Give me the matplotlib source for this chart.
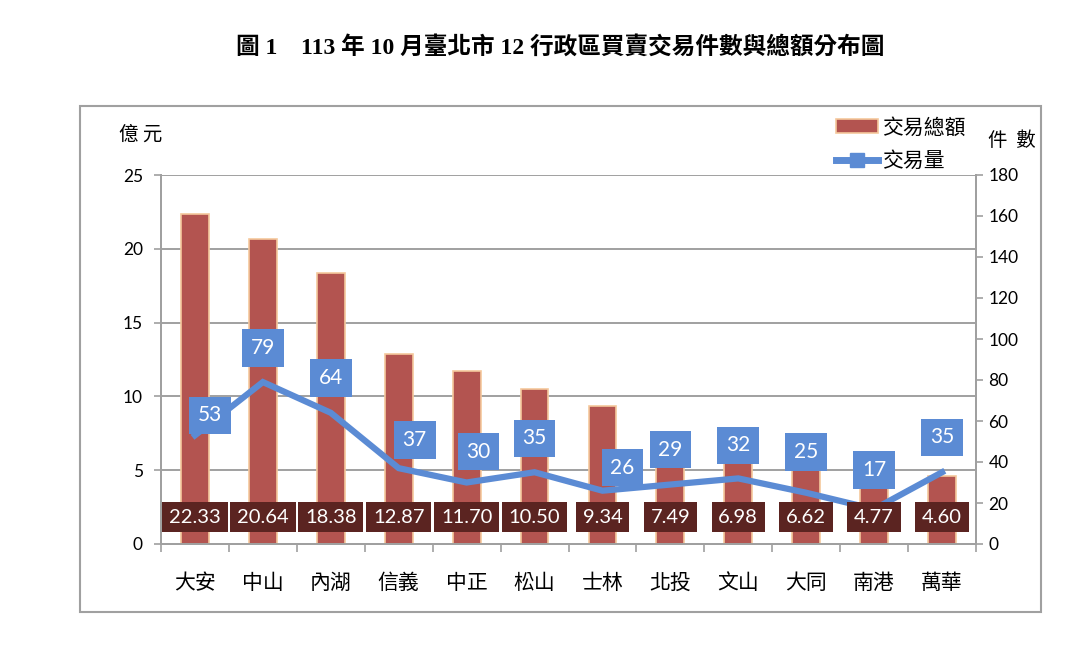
import matplotlib
matplotlib.use("Agg")
import matplotlib.pyplot as plt
from matplotlib.patches import Patch, Rectangle
from matplotlib.lines import Line2D
import numpy as np

plt.rcParams['font.family'] = ['Noto Sans CJK TC', 'DejaVu Sans']

# data
districts = ['大安', '中山', '內湖', '信義', '中正', '松山', '士林', '北投', '文山', '大同', '南港', '萬華']
amount = [22.33, 20.64, 18.38, 12.87, 11.70, 10.50, 9.34, 7.49, 6.98, 6.62, 4.77, 4.60]   # 億元
count = [53, 79, 64, 37, 30, 35, 26, 29, 32, 25, 17, 35]                                   # 件數

# label offsets for the count boxes (pixels: right, up)
lab_dx = [15, 0, 0, 16, 12, 0, 20, 0, 0, 0, 0, 0]
lab_dy = [20, 34, 35, 28, 31, 34, 23, 35, 33, 41, 39, 35]

bar_col = '#b35450'
bar_edge = '#f5c89c'
line_col = '#5b8bd4'
box_dark = '#5b2421'
grey = '#a0a0a0'
numfont = ['Lato', 'DejaVu Sans']

fig = plt.figure(figsize=(10.8, 6.58), dpi=100)
ax = fig.add_axes([161/1080, 1 - 544/658, (976-161)/1080, (544-175)/658])
ax2 = ax.twinx()

x = np.arange(len(districts))
ax.bar(x, amount, width=0.41, color=bar_col, edgecolor=bar_edge, linewidth=1.2, zorder=2)
ax.set_xlim(-0.5, len(districts) - 0.5)
ax.set_ylim(0, 25)
ax.set_yticks(np.arange(0, 26, 5))
ax.yaxis.grid(True, color=grey, linewidth=1.4)
ax.set_axisbelow(True)

ax2.plot(x, count, color=line_col, linewidth=4.5, solid_joinstyle='miter', zorder=2)
ax2.set_ylim(0, 180)
ax2.set_yticks(np.arange(0, 181, 20))

# bar value boxes (sit above the line)
for i, v in enumerate(amount):
    ax2.text(i, 0.073, f'{v:.2f}', transform=ax2.get_xaxis_transform(),
             ha='center', va='center', color='white', fontsize=14.5, family=numfont,
             bbox=dict(boxstyle='square,pad=0.34', facecolor=box_dark, edgecolor='none'),
             zorder=3)

# count label boxes
for i, c in enumerate(count):
    ax2.annotate(str(c), xy=(i, c), xytext=(lab_dx[i] * 0.72, lab_dy[i] * 0.72),
                 textcoords='offset points', ha='center', va='center',
                 color='white', fontsize=15, family=numfont,
                 bbox=dict(boxstyle='square,pad=0.42', facecolor=line_col, edgecolor='none'),
                 zorder=4)

for a in (ax, ax2):
    a.spines['top'].set_visible(False)
    for s in ('left', 'right', 'bottom'):
        a.spines[s].set_color(grey)
        a.spines[s].set_linewidth(1.4)

ax.tick_params(axis='y', direction='out', length=5, width=1.2, color=grey,
               labelsize=12.5, pad=8)
ax2.tick_params(axis='y', direction='out', length=5, width=1.2, color=grey,
                labelsize=12.5, pad=4)
for lab in ax.get_yticklabels() + ax2.get_yticklabels():
    lab.set_family(numfont)

ax.set_xticks(x)
ax.set_xticklabels(districts, fontsize=15)
ax.set_xticks(np.arange(-0.5, len(districts), 1), minor=True)
ax.tick_params(axis='x', which='major', length=0, pad=20)
ax.tick_params(axis='x', which='minor', direction='out', length=6, width=1.2, color=grey)

# axis unit labels
fig.text(119/1080, 1 - 134/658, '億 元', fontsize=14, ha='left', va='center')
fig.text(1036/1080, 1 - 141/658, '件  數', fontsize=14, ha='right', va='center')

# legend
handles = [Patch(facecolor=bar_col, edgecolor=bar_edge, linewidth=1.2),
           Line2D([0], [0], color=line_col, linewidth=5, marker='s', markersize=10)]
ax2.legend(handles, ['交易總額', '交易量'], loc='upper left',
           bbox_to_anchor=(828/1080, 1 - 108/658), bbox_transform=fig.transFigure,
           frameon=False, fontsize=15, handlelength=2.0, handletextpad=0.2,
           labelspacing=0.55, borderaxespad=0)

# title
fig.text(560/1080, 1 - 47/658, '圖 1　113 年 10 月臺北市 12 行政區買賣交易件數與總額分布圖',
         ha='center', va='center', fontsize=17, fontweight='bold',
         family=['Liberation Serif', 'Noto Sans CJK TC'])

# outer frame
fig.patches.append(Rectangle((80/1080, 1 - 612/658), (1041-80)/1080, (612-106)/658,
                             transform=fig.transFigure, fill=False,
                             edgecolor=grey, linewidth=1.5))

fig.savefig('out.png', dpi=100)
